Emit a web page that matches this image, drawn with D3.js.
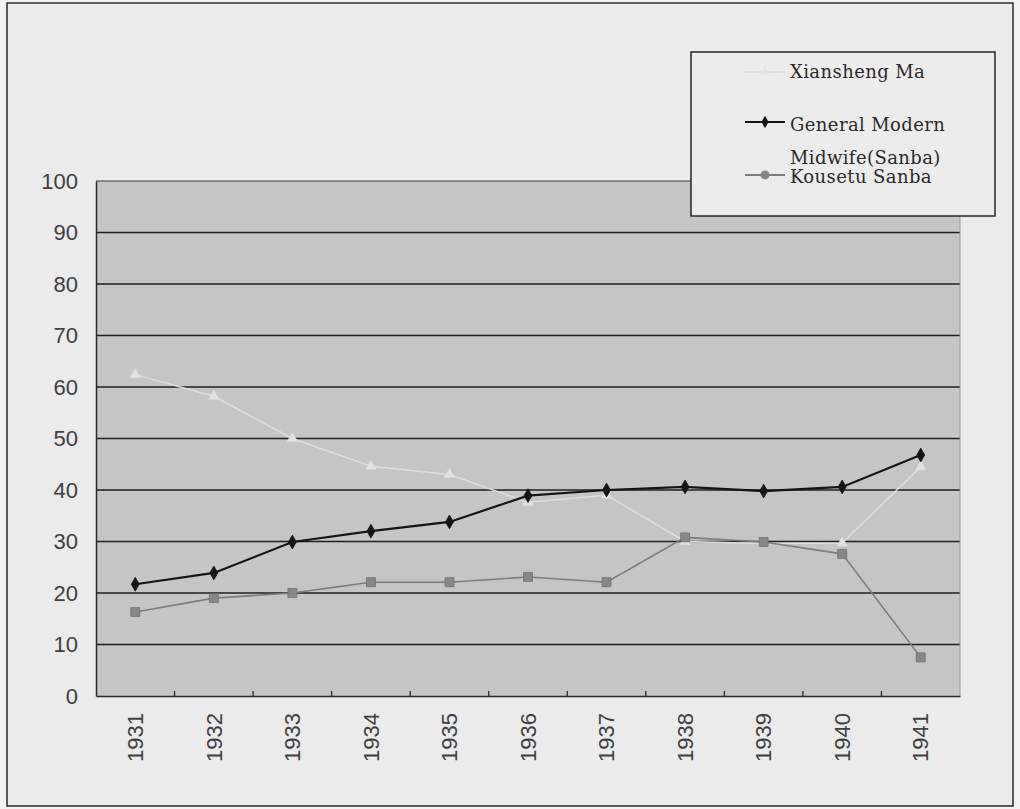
<!DOCTYPE html>
<html>
<head>
<meta charset="utf-8">
<script src="https://cdn.jsdelivr.net/npm/d3@7"></script>
<style>
  body { margin: 0; background: #fff; }
  svg { display: block; }
</style>
</head>
<body>
<svg id="chart" width="1020" height="809"></svg>
<script>
// years on the x axis
const years = ["1931", "1932", "1933", "1934", "1935", "1936", "1937", "1938", "1939", "1940", "1941"];
const yTicks = [0, 10, 20, 30, 40, 50, 60, 70, 80, 90, 100];

// series values (percent)
const xianshengMa = [62.4, 58.2, 50.0, 44.6, 43.0, 37.6, 39.0, 30.0, 29.6, 29.7, 44.5];
const generalMidwife = [21.7, 23.9, 29.9, 32.0, 33.8, 38.9, 40.0, 40.6, 39.8, 40.6, 46.8];
const kousetuSanba = [16.3, 19.0, 20.0, 22.1, 22.1, 23.1, 22.1, 30.8, 29.9, 27.6, 7.5];

const seriesNames = ["Xiansheng Ma", "General Modern\nMidwife(Sanba)", "Kousetu Sanba"];

const svg = d3.select("#chart");
const W = 1020, H = 809;
const plot = { left: 96, right: 960, top: 181, bottom: 696 };

// outer background + frame
svg.append("rect").attr("width", W).attr("height", H).attr("fill", "#f2f2f2");
svg.append("rect")
  .attr("x", 7).attr("y", 3).attr("width", 1006).attr("height", 803)
  .attr("fill", "#ebebeb").attr("stroke", "#2a2a2a").attr("stroke-width", 1.5);

let x = d3.scaleBand().domain(years).range([plot.left, plot.right]).padding(0);
let y = d3.scaleLinear().domain([0, 100]).range([plot.bottom, plot.top]);

// plot area
svg.append("rect")
  .attr("x", plot.left).attr("y", plot.top)
  .attr("width", plot.right - plot.left).attr("height", plot.bottom - plot.top)
  .attr("fill", "#c5c5c5");

// horizontal grid lines
svg.append("g")
  .selectAll("line")
  .data(yTicks.filter(t => t > 0 && t < 100))
  .join("line")
  .attr("x1", plot.left).attr("x2", plot.right)
  .attr("y1", d => y(d)).attr("y2", d => y(d))
  .attr("stroke", "#1e1e1e").attr("stroke-width", 1.6);

// plot borders: top, right (faint)
svg.append("line").attr("x1", plot.left).attr("x2", plot.right)
  .attr("y1", plot.top).attr("y2", plot.top)
  .attr("stroke", "#3a3a3a").attr("stroke-width", 1.2);
svg.append("line").attr("x1", plot.right).attr("x2", plot.right)
  .attr("y1", plot.top).attr("y2", plot.bottom)
  .attr("stroke", "#9a9a9a").attr("stroke-width", 1);

// y axis
let yAxis = d3.axisLeft(y).tickValues(yTicks).tickSize(0).tickPadding(18);
let gy = svg.append("g").attr("transform", `translate(${plot.left},0)`).call(yAxis);
gy.select(".domain").attr("stroke", "#2a2a2a").attr("stroke-width", 1.5);
gy.selectAll("text")
  .attr("font-family", "Liberation Sans, Arial, sans-serif")
  .attr("font-size", 22)
  .attr("fill", "#404040");

// x axis, ticks at category boundaries pointing up
let xAxis = d3.axisBottom(x).tickSize(0).tickPadding(0);
let gx = svg.append("g").attr("transform", `translate(0,${plot.bottom})`).call(xAxis);
gx.select(".domain").attr("stroke", "#2a2a2a").attr("stroke-width", 1.6);
gx.selectAll("text")
  .attr("font-family", "Liberation Sans, Arial, sans-serif")
  .attr("font-size", 22)
  .attr("fill", "#404040")
  .attr("text-anchor", "end")
  .attr("dy", "0.35em")
  .attr("transform", "translate(0,17) rotate(-90)");

svg.append("g")
  .selectAll("line")
  .data(years.slice(1))
  .join("line")
  .attr("x1", d => x(d)).attr("x2", d => x(d))
  .attr("y1", plot.bottom).attr("y2", plot.bottom - 5)
  .attr("stroke", "#2a2a2a").attr("stroke-width", 1.3);

// series
const cx = d => x(d) + x.bandwidth() / 2;
let line = d3.line().x(d => cx(d.year)).y(d => y(d.v));
const toPts = vals => years.map((yr, i) => ({ year: yr, v: vals[i] }));

const styles = [
  { vals: xianshengMa, stroke: "#dedede", width: 1.5, marker: d3.symbolTriangle, size: 45, fill: "#e2e2e2", edge: "#dedede" },
  { vals: generalMidwife, stroke: "#151515", width: 2.2, marker: d3.symbolDiamond, size: 55, fill: "#151515", edge: "#151515" },
  { vals: kousetuSanba, stroke: "#7c7c7c", width: 1.6, marker: d3.symbolSquare, size: 80, fill: "#878787", edge: "#707070" }
];

styles.forEach(s => {
  let pts = toPts(s.vals);
  svg.append("path")
    .datum(pts)
    .attr("d", line)
    .attr("fill", "none")
    .attr("stroke", s.stroke)
    .attr("stroke-width", s.width);

  svg.append("g")
    .selectAll("path")
    .data(pts)
    .join("path")
    .attr("transform", d => `translate(${cx(d.year)},${y(d.v)})`)
    .attr("d", d3.symbol().type(s.marker).size(s.size))
    .attr("fill", s.fill)
    .attr("stroke", s.edge)
    .attr("stroke-width", 0.8);
});

// legend
let legend = svg.append("g");
legend.append("rect")
  .attr("x", 691).attr("y", 52).attr("width", 304).attr("height", 164)
  .attr("fill", "#ececec").attr("stroke", "#262626").attr("stroke-width", 1.5);

const legendRows = [
  { lineY: 72, textY: 78, style: styles[0], marker: d3.symbolTriangle },
  { lineY: 122, textY: 131, style: styles[1], marker: d3.symbolDiamond },
  { lineY: 175, textY: 183, style: styles[2], marker: d3.symbolCircle }
];

legendRows.forEach((r, i) => {
  legend.append("line")
    .attr("x1", 745).attr("x2", 785)
    .attr("y1", r.lineY).attr("y2", r.lineY)
    .attr("stroke", r.style.stroke).attr("stroke-width", 2);
  legend.append("path")
    .attr("transform", `translate(765,${r.lineY})`)
    .attr("d", d3.symbol().type(r.marker).size(r.style.size * 0.8))
    .attr("fill", r.style.fill);

  let lines = seriesNames[i].split("\n");
  let t = legend.append("text")
    .attr("x", 790).attr("y", r.textY)
    .attr("font-family", "DejaVu Serif, Liberation Serif, serif")
    .attr("font-size", 18)
    .attr("letter-spacing", 0.4)
    .attr("fill", "#2a2a2a");
  lines.forEach((ln, j) => {
    t.append("tspan").attr("x", 790).attr("dy", j === 0 ? 0 : 33).text(ln);
  });
});
</script>
</body>
</html>
